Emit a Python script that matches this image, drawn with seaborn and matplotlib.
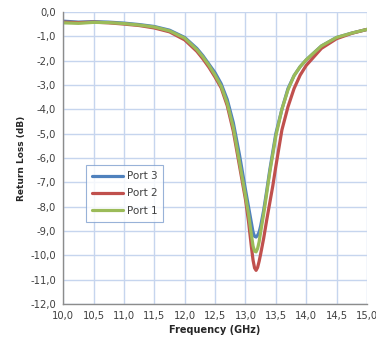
import matplotlib
matplotlib.use("Agg")
import matplotlib.pyplot as plt
import seaborn as sns
import pandas as pd
from matplotlib.ticker import FuncFormatter, MultipleLocator

freq = [10.0, 10.25, 10.5, 10.75, 11.0, 11.25, 11.5, 11.75, 12.0, 12.2, 12.3, 12.4, 12.5,
        12.6, 12.7, 12.8, 12.9, 13.0, 13.05, 13.1, 13.125, 13.15, 13.175, 13.2, 13.225, 13.25,
        13.3, 13.35, 13.4, 13.45, 13.5, 13.6, 13.7, 13.8, 13.9, 14.0, 14.25, 14.5, 14.75, 15.0]

port3 = [-0.38, -0.42, -0.40, -0.42, -0.46, -0.52, -0.60, -0.75, -1.05, -1.50, -1.80, -2.15, -2.50,
         -2.95, -3.60, -4.55, -5.85, -7.30, -8.00, -8.70, -9.05, -9.22, -9.25, -9.18, -9.05, -8.80,
         -8.15, -7.35, -6.50, -5.75, -5.00, -4.00, -3.15, -2.62, -2.25, -1.97, -1.40, -1.05, -0.87, -0.72]

port2 = [-0.42, -0.44, -0.42, -0.45, -0.50, -0.56, -0.66, -0.82, -1.15, -1.62, -1.93, -2.28, -2.68,
         -3.12, -3.85, -4.90, -6.30, -7.70, -8.60, -9.70, -10.20, -10.52, -10.62, -10.50, -10.25, -9.95,
         -9.30, -8.55, -7.85, -7.15, -6.35, -4.85, -3.90, -3.15, -2.60, -2.20, -1.50, -1.10, -0.88, -0.72]

port1 = [-0.45, -0.47, -0.43, -0.44, -0.48, -0.54, -0.62, -0.78, -1.08, -1.55, -1.85, -2.20, -2.60,
         -3.05, -3.75, -4.75, -6.15, -7.55, -8.30, -9.20, -9.62, -9.83, -9.86, -9.72, -9.45, -9.05,
         -8.30, -7.45, -6.60, -5.85, -5.10, -4.00, -3.20, -2.62, -2.25, -1.97, -1.40, -1.05, -0.87, -0.72]

series = ["Port 3", "Port 2", "Port 1"]
colors = {"Port 3": "#4f81bd", "Port 2": "#c0504d", "Port 1": "#9bbb59"}

df = pd.concat([
    pd.DataFrame({"Frequency": freq, "Return Loss": vals, "Port": name})
    for name, vals in zip(series, [port3, port2, port1])
])

sns.set_style("white")
plt.rcParams["font.family"] = ["DejaVu Sans"]

fig = plt.figure(figsize=(3.76, 3.40), dpi=100)
ax = fig.add_axes([0.168, 0.106, 0.808, 0.859])

sns.lineplot(data=df, x="Frequency", y="Return Loss", hue="Port", hue_order=series,
             palette=colors, linewidth=2.3, ax=ax, sort=True)
for line in ax.get_lines():
    line.set_solid_joinstyle("round")

ax.set_xlim(10, 15)
ax.set_ylim(-12, 0)
ax.xaxis.set_major_locator(MultipleLocator(0.5))
ax.yaxis.set_major_locator(MultipleLocator(1.0))
fmt = FuncFormatter(lambda v, p: f"{v:.1f}".replace(".", ",").replace("-0,0", "0,0"))
ax.xaxis.set_major_formatter(fmt)
ax.yaxis.set_major_formatter(fmt)

ax.grid(True, color="#c6d5ee", linewidth=1.0)
ax.set_axisbelow(True)
for s in ["top", "right"]:
    ax.spines[s].set_visible(False)
for s in ["left", "bottom"]:
    ax.spines[s].set_color("#8c8c8c")
    ax.spines[s].set_linewidth(1.0)
ax.tick_params(axis="both", direction="out", length=3, width=0.8, color="#8c8c8c",
               labelsize=7.2, labelcolor="#404040", pad=2)

ax.set_xlabel("Frequency (GHz)", fontsize=7, fontweight="bold", labelpad=3)
ax.set_ylabel("Return Loss (dB)", fontsize=6.5, fontweight="bold", labelpad=3)

leg = ax.legend(loc="upper left", bbox_to_anchor=(0.075, 0.476), fontsize=7.5,
                frameon=True, fancybox=False, handlelength=3.0, handletextpad=0.3,
                borderpad=0.6, labelspacing=0.7, borderaxespad=0)
leg.get_frame().set_edgecolor("#7f9fcf")
leg.get_frame().set_linewidth(0.8)
for t in leg.get_texts():
    t.set_color("#404040")

fig.savefig("out.png", dpi=100)
